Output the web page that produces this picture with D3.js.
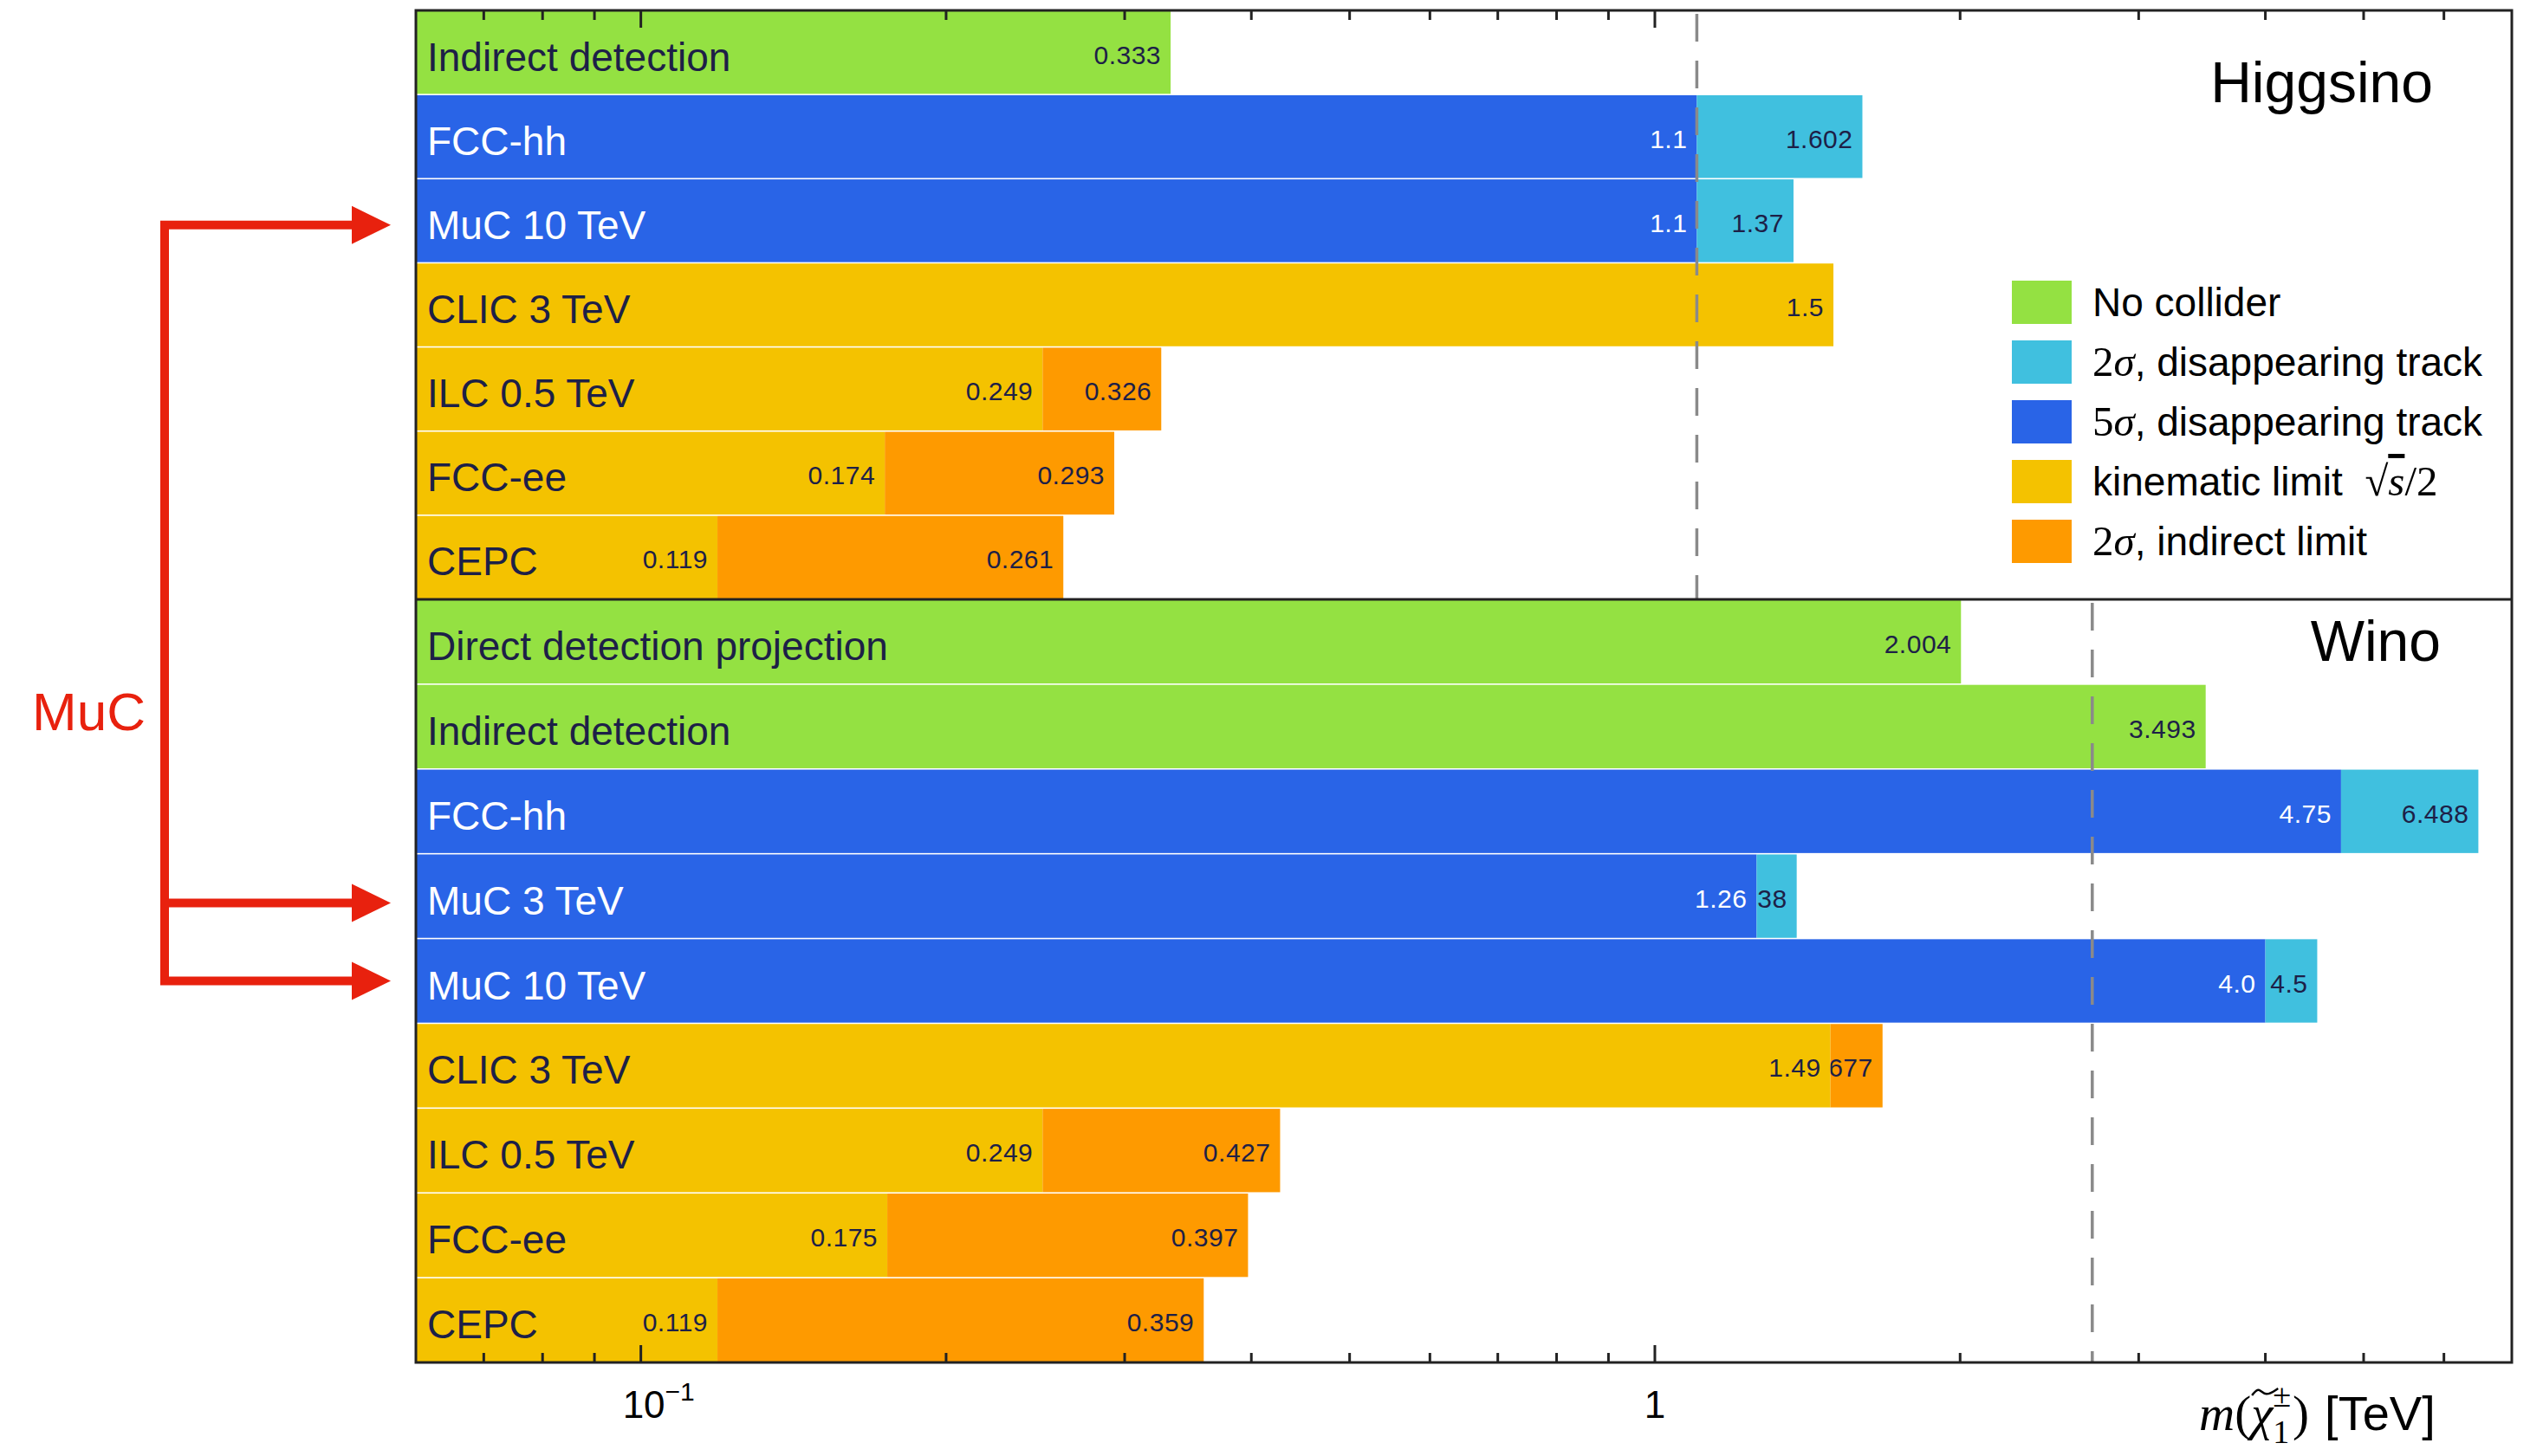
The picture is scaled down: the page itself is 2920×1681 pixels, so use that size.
<!DOCTYPE html>
<html>
<head>
<meta charset="utf-8">
<script src="https://cdn.jsdelivr.net/npm/d3@7"></script>
<style>
  body { margin: 0; background: #fff; }
  text { white-space: pre; }
</style>
</head>
<body>
<div id="chart"></div>
<script>
// ---- data ----
// Higgsino panel, top to bottom
const higgsinoRows = ["Indirect detection", "FCC-hh", "MuC 10 TeV", "CLIC 3 TeV", "ILC 0.5 TeV", "FCC-ee", "CEPC"];
const higgsinoInner = [0.333, 1.1, 1.1, 1.5, 0.249, 0.174, 0.119];
const higgsinoInnerType = ["nocol", "dt5", "dt5", "kin", "kin", "kin", "kin"];
const higgsinoOuter = [null, 1.602, 1.37, null, 0.326, 0.293, 0.261];
const higgsinoOuterType = [null, "dt2", "dt2", null, "ind", "ind", "ind"];
const higgsinoThermal = 1.1;

// Wino panel, top to bottom
const winoRows = ["Direct detection projection", "Indirect detection", "FCC-hh", "MuC 3 TeV", "MuC 10 TeV", "CLIC 3 TeV", "ILC 0.5 TeV", "FCC-ee", "CEPC"];
const winoInner = [2.004, 3.493, 4.75, 1.26, 4.0, 1.49, 0.249, 0.175, 0.119];
const winoInnerType = ["nocol", "nocol", "dt5", "dt5", "dt5", "kin", "kin", "kin", "kin"];
const winoOuter = [null, null, 6.488, 1.38, 4.5, 1.677, 0.427, 0.397, 0.359];
const winoOuterType = [null, null, "dt2", "dt2", "dt2", "ind", "ind", "ind", "ind"];
const winoThermal = 2.7;

const xDomain = [0.06, 7];

// legend
const legendKeys = ["nocol", "dt2", "dt5", "kin", "ind"];
const legendText = [
  [{t: "No collider"}],
  [{t: "2", serif: true}, {t: "σ", serif: true, it: true}, {t: ", disappearing track"}],
  [{t: "5", serif: true}, {t: "σ", serif: true, it: true}, {t: ", disappearing track"}],
  [{t: "kinematic limit  "}, {t: "√", serif: true}, {t: "s", serif: true, it: true, over: true}, {t: "/2", serif: true}],
  [{t: "2", serif: true}, {t: "σ", serif: true, it: true}, {t: ", indirect limit"}]
];

const colors = {
  nocol: "#94e142",
  dt2: "#40c0df",
  dt5: "#2964e7",
  kin: "#f4c200",
  ind: "#fe9a00"
};

const SANS = "'Liberation Sans', Arial, Helvetica, sans-serif";
const SERIF = "'Liberation Serif', 'Times New Roman', serif";
const NAVY = "#1d2047";

// ---- layout ----
const W = 2920, H = 1681;
const pLeft = 480, pRight = 2899, pTop = 12, pMid = 692, pBottom = 1573;

const svg = d3.select("#chart").append("svg")
  .attr("width", W).attr("height", H)
  .style("display", "block")
  .style("background", "#fff");

const x = d3.scaleLog().domain(xDomain).range([pLeft, pRight]);
const yHigg = d3.scaleBand().domain(d3.range(higgsinoRows.length)).range([pTop, pMid]);
const yWino = d3.scaleBand().domain(d3.range(winoRows.length)).range([pMid, pBottom]);

const fmt = v => Number.isInteger(v) ? v.toFixed(1) : String(v);

let clipId = 0;

function drawPanel(rows, inner, innerType, outer, outerType, y, thermal, name, nameX, nameY) {
  const g = svg.append("g");

  // build segments
  const segs = [];
  rows.forEach((r, i) => {
    segs.push({row: i, x0: xDomain[0], x1: inner[i], type: innerType[i]});
    if (outer[i] != null) segs.push({row: i, x0: inner[i], x1: outer[i], type: outerType[i]});
  });

  g.selectAll("rect.bar").data(segs).join("rect")
    .attr("class", "bar")
    .attr("x", d => x(d.x0))
    .attr("width", d => x(d.x1) - x(d.x0))
    .attr("y", d => y(d.row) + 0.8)
    .attr("height", y.bandwidth() - 1.6)
    .attr("fill", d => colors[d.type]);

  // value labels; a label wider than its segment loses its leading characters,
  // the way the narrow boxes in the original cut them off
  segs.forEach(d => {
    const id = "seg" + (clipId++);
    const segW = x(d.x1) - x(d.x0);
    g.append("clipPath").attr("id", id).append("rect")
      .attr("x", x(d.x0)).attr("width", segW)
      .attr("y", y(d.row)).attr("height", y.bandwidth());
    const t = g.append("text")
      .attr("clip-path", "url(#" + id + ")")
      .attr("x", x(d.x1) - 11)
      .attr("y", y(d.row) + y.bandwidth() / 2 + 13)
      .attr("text-anchor", "end")
      .attr("font-family", SANS)
      .attr("font-size", 30)
      .attr("letter-spacing", 0.5)
      .attr("fill", d.type === "dt5" ? "#fff" : NAVY);
    let s = fmt(d.x1);
    t.text(s);
    while (s.length > 1 && t.node().getComputedTextLength() > segW - 6) {
      s = s.slice(1);
      t.text(s);
    }
  });

  // row names
  g.selectAll("text.row").data(rows).join("text")
    .attr("class", "row")
    .attr("x", pLeft + 13)
    .attr("y", (d, i) => y(i) + y.bandwidth() / 2 + 21)
    .attr("font-family", SANS)
    .attr("font-size", 46)
    .attr("fill", (d, i) => innerType[i] === "dt5" ? "#fff" : NAVY)
    .text(d => d);

  // thermal mass line
  g.append("line")
    .attr("x1", x(thermal)).attr("x2", x(thermal))
    .attr("y1", y.range()[0] + 4).attr("y2", y.range()[1])
    .attr("stroke", "#8a8a8a")
    .attr("stroke-width", 3.5)
    .attr("stroke-dasharray", "32,22");

  g.append("text")
    .attr("x", nameX).attr("y", nameY)
    .attr("text-anchor", "end")
    .attr("font-family", SANS)
    .attr("font-size", 66)
    .attr("fill", "#000")
    .text(name);
}

drawPanel(higgsinoRows, higgsinoInner, higgsinoInnerType, higgsinoOuter, higgsinoOuterType,
  yHigg, higgsinoThermal, "Higgsino", 2808, 118);
drawPanel(winoRows, winoInner, winoInnerType, winoOuter, winoOuterType,
  yWino, winoThermal, "Wino", 2817, 763);

// ---- frame and ticks ----
const ticks = x.ticks().filter(t => t > xDomain[0] * 1.001 && t < xDomain[1] * 0.999);
const isMajor = t => Math.abs(Math.log10(t) - Math.round(Math.log10(t))) < 1e-9;

svg.append("g").selectAll("line").data(ticks).join("line")
  .attr("x1", d => x(d)).attr("x2", d => x(d))
  .attr("y1", pTop).attr("y2", d => pTop + (isMajor(d) ? 20 : 11))
  .attr("stroke", "#222").attr("stroke-width", 3);

svg.append("g").selectAll("line").data(ticks).join("line")
  .attr("x1", d => x(d)).attr("x2", d => x(d))
  .attr("y1", pBottom).attr("y2", d => pBottom - (isMajor(d) ? 20 : 11))
  .attr("stroke", "#222").attr("stroke-width", 3);

svg.append("rect")
  .attr("x", pLeft).attr("y", pTop)
  .attr("width", pRight - pLeft).attr("height", pBottom - pTop)
  .attr("fill", "none").attr("stroke", "#222").attr("stroke-width", 3);

svg.append("line")
  .attr("x1", pLeft).attr("x2", pRight).attr("y1", pMid).attr("y2", pMid)
  .attr("stroke", "#222").attr("stroke-width", 3);

// tick labels (log decades)
const decades = ticks.filter(isMajor);
decades.forEach(t => {
  const e = Math.round(Math.log10(t));
  const txt = svg.append("text")
    .attr("y", 1637)
    .attr("font-family", SANS)
    .attr("font-size", 44)
    .attr("fill", "#000");
  if (e === 0) {
    txt.attr("x", x(t)).attr("text-anchor", "middle").text("1");
  } else {
    txt.attr("x", x(t) - 21);
    txt.append("tspan").text("10");
    txt.append("tspan").attr("font-size", 30).attr("dy", -20).text("−" + Math.abs(e));
  }
});

// ---- axis title  m(χ̃1±) [TeV], laid out piece by piece ----
const tBase = 1651;
let tx = 2538;
function piece(str, opts) {
  const t = svg.append("text")
    .attr("x", tx).attr("y", tBase + (opts.dy || 0))
    .attr("font-family", opts.sans ? SANS : SERIF)
    .attr("font-style", opts.it ? "italic" : "normal")
    .attr("font-size", opts.size)
    .attr("fill", "#000")
    .text(str);
  return t.node().getComputedTextLength();
}
tx += piece("m", {it: true, size: 57});
tx += piece("(", {size: 57});
const chiX = tx;
const chiW = piece("χ", {it: true, size: 57});
tx += chiW;
const subW = piece("1", {size: 38, dy: 15});
const supW = piece("±", {size: 38, dy: -27});
tx += Math.max(subW, supW) + 2;
tx += piece(")", {size: 57});
tx += 18;
piece("[TeV]", {sans: true, size: 56});
// tilde over chi
svg.append("path")
  .attr("d", d3.line().curve(d3.curveBasis)([
    [chiX + 1, tBase - 40], [chiX + chiW * 0.35, tBase - 50],
    [chiX + chiW * 0.65, tBase - 38], [chiX + chiW + 6, tBase - 48]]))
  .attr("fill", "none").attr("stroke", "#000").attr("stroke-width", 2.5);

// ---- legend ----
const lg = svg.append("g");
legendKeys.forEach((k, i) => {
  const cy = 349 + i * 69;
  lg.append("rect")
    .attr("x", 2322).attr("y", cy - 25)
    .attr("width", 69).attr("height", 50)
    .attr("fill", colors[k]);
  const t = lg.append("text")
    .attr("x", 2415).attr("y", cy + 16)
    .attr("font-family", SANS)
    .attr("font-size", 46)
    .attr("fill", "#000");
  legendText[i].forEach(p => {
    const s = t.append("tspan").text(p.t);
    if (p.serif) s.attr("font-family", SERIF).attr("font-size", 49);
    if (p.it) s.attr("font-style", "italic");
    if (p.over) s.style("text-decoration", "overline");
  });
});

// ---- MuC annotation ----
const red = "#e8210e";
const arrowRows = [yHigg(2) + yHigg.bandwidth() / 2 + 5,
                   yWino(3) + yWino.bandwidth() / 2 + 8,
                   yWino(4) + yWino.bandwidth() / 2];
const bx = 190, lineEnd = 408, tip = 451;

svg.append("path")
  .attr("d", `M${lineEnd},${arrowRows[0]} H${bx} V${arrowRows[2]} H${lineEnd}`)
  .attr("fill", "none").attr("stroke", red).attr("stroke-width", 10)
  .attr("stroke-linejoin", "miter");
svg.append("line")
  .attr("x1", bx).attr("x2", lineEnd).attr("y1", arrowRows[1]).attr("y2", arrowRows[1])
  .attr("stroke", red).attr("stroke-width", 10);
svg.append("g").selectAll("path").data(arrowRows).join("path")
  .attr("d", d => `M${lineEnd - 2},${d - 22} L${tip},${d} L${lineEnd - 2},${d + 22} Z`)
  .attr("fill", red);

svg.append("text")
  .attr("x", 37).attr("y", 843)
  .attr("font-family", SANS)
  .attr("font-size", 62)
  .attr("fill", red)
  .text("MuC");
</script>
</body>
</html>
